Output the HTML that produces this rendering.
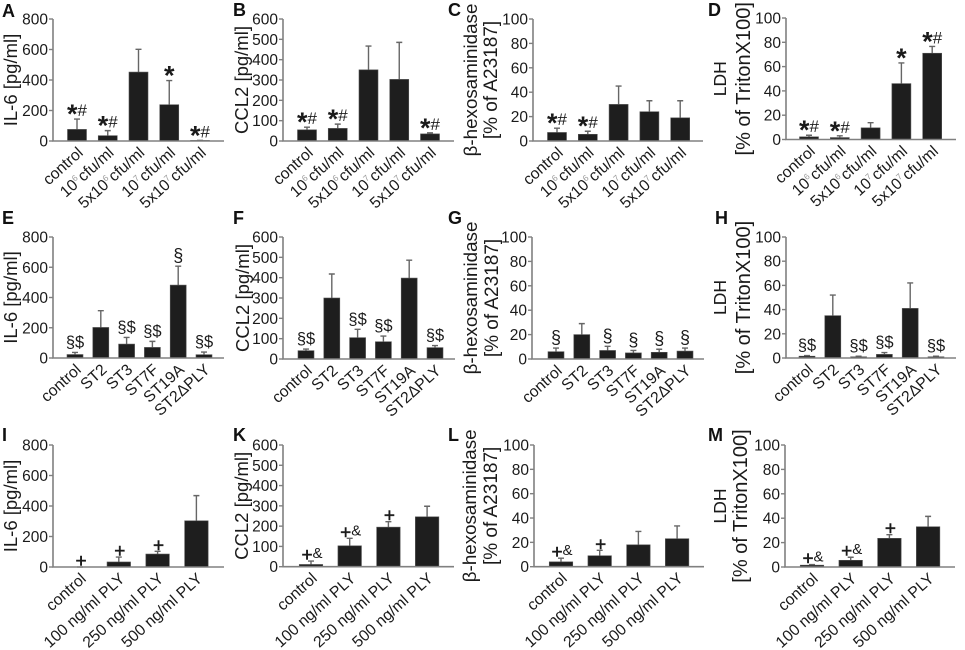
<!DOCTYPE html>
<html lang="en">
<head>
<meta charset="utf-8">
<title>Cytokine and cytotoxicity bar chart panels</title>
<style>
html,body{margin:0;padding:0;background:#fff;}
svg{display:block;font-family:"Liberation Sans",sans-serif;}
</style>
</head>
<body>
<svg id="figure" xmlns="http://www.w3.org/2000/svg" width="965" height="650" viewBox="0 0 965 650"></svg>
<script>
// Shared categories and tick labels
const categoriesDose = ['control', '10^6 cfu/ml', '5x10^6 cfu/ml', '10^7 cfu/ml', '5x10^7 cfu/ml'];
const categoriesStrain = ['control', 'ST2', 'ST3', 'ST7F', 'ST19A', 'ST2ΔPLY'];
const categoriesToxin = ['control', '100 ng/ml PLY', '250 ng/ml PLY', '500 ng/ml PLY'];
const ticks800 = [0, 200, 400, 600, 800];
const ticks600 = [0, 100, 200, 300, 400, 500, 600];
const ticks100 = [0, 20, 40, 60, 80, 100];

// Series values: mean, upper error-bar end, significance marks
const valuesA = [76, 35, 452, 238, 4];
const errorTopA = [144, 68, 601, 396, 4];
const marksA = ['*#', '*#', '', '*', '*#'];
const valuesB = [55, 62, 350, 303, 35];
const errorTopB = [68, 83, 467, 485, 40];
const marksB = ['*#', '*#', '', '', '*#'];
const valuesC = [7, 5.5, 30, 24, 19];
const errorTopC = [10.5, 8, 45, 33, 33];
const marksC = ['*#', '*#', '', '', ''];
const valuesD = [2.2, 1.6, 9.6, 46, 71];
const errorTopD = [3.5, 3, 13.8, 63, 76.6];
const marksD = ['*#', '*#', '', '*', '*#'];

const valuesE = [23, 202, 92, 70, 482, 22];
const errorTopE = [37, 313, 136, 110, 607, 39];
const marksE = ['§$', '', '§$', '§$', '§', '§$'];
const valuesF = [41, 300, 105, 85, 398, 56];
const errorTopF = [49, 418, 146, 113, 486, 66];
const marksF = ['§$', '', '§$', '§$', '', '§$'];
const valuesG = [6, 20, 7, 5, 5.5, 6.5];
const errorTopG = [9, 29, 10.4, 7, 8, 9];
const marksG = ['§', '', '§', '§', '§', '§'];
const valuesH = [1.5, 35, 1, 3, 41, 1];
const errorTopH = [2, 52, 1.5, 4.5, 62, 1.5];
const marksH = ['§$', '', '§$', '§$', '', '§$'];

const valuesI = [0, 33, 85, 303];
const errorTopI = [0, 65, 103, 468];
const marksI = ['+', '+', '+', ''];
const valuesK = [11, 103, 195, 246];
const errorTopK = [28, 140, 222, 298];
const marksK = ['+&', '+&', '+', ''];
const valuesL = [4, 9, 18, 23];
const errorTopL = [7, 13.5, 29, 33.5];
const marksL = ['+&', '+', '', ''];
const valuesM = [1.5, 5.5, 23.5, 33];
const errorTopM = [2, 8, 26.5, 41.5];
const marksM = ['+&', '+&', '+', ''];

const SVG_NS = 'http://www.w3.org/2000/svg';
const figure = document.getElementById('figure');

function make(tag, attrs, parent) {
  const el = document.createElementNS(SVG_NS, tag);
  for (const k in attrs) el.setAttribute(k, attrs[k]);
  parent.appendChild(el);
  return el;
}

function drawLabel(parent, text, x, y) {
  const t = make('text', {
    x: x, y: y, 'text-anchor': 'end', 'font-size': 15.8, fill: '#1a1a1a',
    transform: 'rotate(-42 ' + x + ' ' + y + ')'
  }, parent);
  
  
  const parts = text.split(/\^(\d)/);
  parts.forEach(function (part, i) {
    const span = make('tspan', {}, t);
    span.textContent = part;
    if (i % 2 === 1) {
      span.setAttribute('font-size', '8.5');
      span.setAttribute('dy', '-6');
      span.setAttribute('fill', '#999');
    } else if (i > 0) {
      span.setAttribute('dy', '6');
      span.setAttribute('dx', '-3');
    }
  });
}

function drawMark(parent, mark, x, top) {
  const t = make('text', { x: x, y: top + 4, 'text-anchor': 'middle', fill: '#1a1a1a' }, parent);
  
  
  if (mark === '§') {
    t.setAttribute('y', top - 4.5);
    t.setAttribute('font-size', '18');
    t.textContent = mark;
    return;
  }
  if (mark === '§$') {
    t.setAttribute('y', top - 5);
    t.setAttribute('font-size', '16.5');
    t.textContent = mark;
    return;
  }
  if (mark.charAt(0) === '+') {
    t.setAttribute('y', top);
    t.setAttribute('x', x + 1);
  }
  Array.from(mark).forEach(function (ch) {
    const span = make('tspan', {}, t);
    span.textContent = ch;
    if (ch === '*') {
      span.setAttribute('font-size', '27');
      span.setAttribute('font-weight', 'bold');
    } else if (ch === '#') {
      span.setAttribute('font-size', '17');
      span.setAttribute('dy', '-7');
    } else if (ch === '+') {
      span.setAttribute('font-size', '19');
      span.setAttribute('stroke', '#1a1a1a');
      span.setAttribute('stroke-width', '0.5');
    } else if (ch === '&') {
      span.setAttribute('font-size', '15');
      span.setAttribute('dy', '-3');
    }
  });
}

function drawPanel(cfg) {
  const g = make('g', {}, figure);
  
  

  const maxTick = cfg.ticks[cfg.ticks.length - 1];
  const y = function (v) { return cfg.y0 - (v / maxTick) * (cfg.y0 - cfg.yTop); };
  const x = function (i) { return cfg.first + i * cfg.step; };

  const letter = make('text', { x: cfg.letterX, y: cfg.letterY, 'font-size': 18, 'font-weight': 'bold', fill: '#111' }, g);
  
  
  letter.textContent = cfg.letter;

  const midY = (cfg.y0 + cfg.yTop) / 2;
  cfg.titles.forEach(function (title, i) {
    const tx = cfg.titleX[i];
    const t = make('text', {
      x: tx, y: midY, 'text-anchor': 'middle', 'font-size': cfg.titleSizes[i], fill: '#1a1a1a',
      transform: 'rotate(-90 ' + tx + ' ' + midY + ')'
    }, g);
    
    
    t.textContent = title;
  });

  cfg.values.forEach(function (v, i) {
    const top = y(cfg.errorTop[i]);
    const whisker = make('path', {
      d: 'M' + x(i) + ' ' + y(v) + 'V' + top + 'M' + (x(i) - 3) + ' ' + top + 'H' + (x(i) + 3),
      stroke: '#666', 'stroke-width': 1.4, fill: 'none'
    }, g);
    
    

    const bar = make('rect', {
      x: x(i) - cfg.barW / 2, y: y(v), width: cfg.barW, height: cfg.y0 - y(v),
      fill: '#1e1e1e', stroke: '#555', 'stroke-width': 0.6
    }, g);
    
    

    if (cfg.marks[i]) drawMark(g, cfg.marks[i], x(i), top);
    drawLabel(g, cfg.categories[i], x(i) + 7, cfg.y0 + 13);
  });

  const axes = make('path', {
    d: 'M' + cfg.axisX + ' ' + cfg.yTop + 'V' + cfg.y0 + 'H' + cfg.axisEnd,
    stroke: '#808080', 'stroke-width': 1.6, fill: 'none'
  }, g);
  
  

  cfg.ticks.forEach(function (tick) {
    const mark = make('line', {
      x1: cfg.axisX - 4, x2: cfg.axisX, y1: y(tick), y2: y(tick),
      stroke: '#808080', 'stroke-width': 1.4
    }, g);
    
    

    const label = make('text', {
      x: cfg.axisX - 5, y: y(tick) + 5.5, 'text-anchor': 'end', 'font-size': 15.5, fill: '#1a1a1a'
    }, g);
    
    
    label.textContent = tick;
  });
}

const il6Titles = ['IL-6 [pg/ml]'];
const ccl2Titles = ['CCL2 [pg/ml]'];
const hexTitles = ['β-hexosaminidase', '[% of A23187]'];
const ldhTitles = ['LDH', '[% of TritonX100]'];
const oneTitleSize = [18.5];
const hexTitleSizes = [18.8, 19];
const ldhTitleSizes = [17.5, 20];

drawPanel({ letter: 'A', letterX: 2, letterY: 17, titles: il6Titles, titleSizes: oneTitleSize, titleX: [17], axisX: 53, axisEnd: 224, y0: 141, yTop: 19, first: 77, step: 30.75, barW: 19, ticks: ticks800, categories: categoriesDose, values: valuesA, errorTop: errorTopA, marks: marksA });
drawPanel({ letter: 'B', letterX: 233, letterY: 16, titles: ccl2Titles, titleSizes: oneTitleSize, titleX: [248], axisX: 283, axisEnd: 454, y0: 141, yTop: 19, first: 307, step: 30.75, barW: 19, ticks: ticks600, categories: categoriesDose, values: valuesB, errorTop: errorTopB, marks: marksB });
drawPanel({ letter: 'C', letterX: 448, letterY: 16, titles: hexTitles, titleSizes: hexTitleSizes, titleX: [477, 497], axisX: 533, axisEnd: 703, y0: 141, yTop: 19, first: 557, step: 30.8, barW: 19, ticks: ticks100, categories: categoriesDose, values: valuesC, errorTop: errorTopC, marks: marksC });
drawPanel({ letter: 'D', letterX: 708, letterY: 16, titles: ldhTitles, titleSizes: ldhTitleSizes, titleX: [726, 750], axisX: 786, axisEnd: 956, y0: 139.5, yTop: 18, first: 809, step: 30.8, barW: 19, ticks: ticks100, categories: categoriesDose, values: valuesD, errorTop: errorTopD, marks: marksD });

drawPanel({ letter: 'E', letterX: 2, letterY: 224, titles: il6Titles, titleSizes: oneTitleSize, titleX: [17], axisX: 53, axisEnd: 224, y0: 358, yTop: 237, first: 75, step: 25.8, barW: 16, ticks: ticks800, categories: categoriesStrain, values: valuesE, errorTop: errorTopE, marks: marksE });
drawPanel({ letter: 'F', letterX: 233, letterY: 224, titles: ccl2Titles, titleSizes: oneTitleSize, titleX: [249], axisX: 283, axisEnd: 455, y0: 359, yTop: 237, first: 306, step: 25.8, barW: 16, ticks: ticks600, categories: categoriesStrain, values: valuesF, errorTop: errorTopF, marks: marksF });
drawPanel({ letter: 'G', letterX: 448, letterY: 224, titles: hexTitles, titleSizes: hexTitleSizes, titleX: [477, 498], axisX: 532, axisEnd: 704, y0: 359, yTop: 237, first: 556, step: 25.8, barW: 16, ticks: ticks100, categories: categoriesStrain, values: valuesG, errorTop: errorTopG, marks: marksG });
drawPanel({ letter: 'H', letterX: 715, letterY: 224, titles: ldhTitles, titleSizes: ldhTitleSizes, titleX: [726, 750], axisX: 786, axisEnd: 956, y0: 358, yTop: 237, first: 807, step: 25.8, barW: 16, ticks: ticks100, categories: categoriesStrain, values: valuesH, errorTop: errorTopH, marks: marksH });

drawPanel({ letter: 'I', letterX: 2, letterY: 441, titles: il6Titles, titleSizes: oneTitleSize, titleX: [17], axisX: 53, axisEnd: 224, y0: 567, yTop: 445, first: 80, step: 38.8, barW: 23.5, ticks: ticks800, categories: categoriesToxin, values: valuesI, errorTop: errorTopI, marks: marksI });
drawPanel({ letter: 'K', letterX: 233, letterY: 441, titles: ccl2Titles, titleSizes: oneTitleSize, titleX: [248], axisX: 283, axisEnd: 454, y0: 566.7, yTop: 445, first: 311, step: 38.7, barW: 23.5, ticks: ticks600, categories: categoriesToxin, values: valuesK, errorTop: errorTopK, marks: marksK });
drawPanel({ letter: 'L', letterX: 448, letterY: 441, titles: hexTitles, titleSizes: hexTitleSizes, titleX: [476, 497], axisX: 534, axisEnd: 704, y0: 566.7, yTop: 445, first: 561, step: 38.7, barW: 23.5, ticks: ticks100, categories: categoriesToxin, values: valuesL, errorTop: errorTopL, marks: marksL });
drawPanel({ letter: 'M', letterX: 708, letterY: 441, titles: ldhTitles, titleSizes: ldhTitleSizes, titleX: [726, 747], axisX: 785, axisEnd: 955, y0: 567, yTop: 445, first: 812, step: 38.7, barW: 23.5, ticks: ticks100, categories: categoriesToxin, values: valuesM, errorTop: errorTopM, marks: marksM });
</script>
</body>
</html>
